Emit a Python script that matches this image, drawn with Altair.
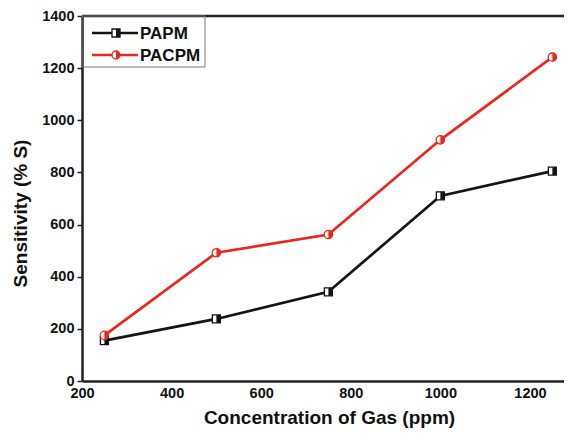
import altair as alt
import pandas as pd

concentration = [250, 500, 750, 1000, 1250]
papm = [155, 238, 342, 710, 805]
pacpm = [175, 492, 562, 925, 1242]
series_names = ["PAPM", "PACPM"]
colors = ["#141414", "#e8281e"]
x_ticks = [200, 400, 600, 800, 1000, 1200]
y_ticks = [0, 200, 400, 600, 800, 1000, 1200, 1400]

W, H = 482, 365
FONT = "Liberation Sans"

df = pd.DataFrame({
    "conc": concentration * 2,
    "sens": papm + pacpm,
    "series": [series_names[0]] * 5 + [series_names[1]] * 5,
})

xs = alt.X("conc:Q", scale=alt.Scale(domain=[200, 1276], nice=False),
           axis=alt.Axis(values=x_ticks, format="d", labelFlush=False, title="Concentration of Gas (ppm)",
                         grid=False, ticks=False, labelPadding=5, titlePadding=9, titleX=247,
                         domainColor="#222", domainWidth=2.5,
                         labelFont=FONT, labelFontWeight="bold", labelFontSize=14.5, labelColor="#111",
                         titleFont=FONT, titleFontWeight="bold", titleFontSize=19, titleColor="#111"))
ys = alt.Y("sens:Q", scale=alt.Scale(domain=[0, 1400], nice=False),
           axis=alt.Axis(values=y_ticks, format="d", labelFlush=False, title="Sensitivity (% S)", grid=False,
                         tickSize=5, tickWidth=1.5, tickColor="#222", labelPadding=3, titlePadding=11,
                         titleY=197,
                         domainColor="#222", domainWidth=2.5,
                         labelFont=FONT, labelFontWeight="bold", labelFontSize=14.5, labelColor="#111",
                         titleFont=FONT, titleFontWeight="bold", titleFontSize=19, titleColor="#111"))
color = alt.Color("series:N", scale=alt.Scale(domain=series_names, range=colors), legend=None)

base = alt.Chart(df)
lines = base.mark_line(strokeWidth=2.7).encode(x=xs, y=ys, color=color, detail="series:N")

half_sq = "M0,-1 L1,-1 L1,1 L0,1 Z"
half_circ = "M0,-1 A1,1 0 0,1 0,1 Z"

d1 = df[df.series == series_names[0]]
d2 = df[df.series == series_names[1]]
sq_bg = alt.Chart(d1).mark_point(shape="square", filled=True, fill="white", stroke=colors[0],
                                 strokeWidth=1.3, size=64, opacity=1).encode(x="conc:Q", y="sens:Q")
sq_half = alt.Chart(d1).mark_point(shape=half_sq, filled=True, color=colors[0], size=64,
                                   opacity=1).encode(x="conc:Q", y="sens:Q")
ci_bg = alt.Chart(d2).mark_point(shape="circle", filled=True, fill="white", stroke=colors[1],
                                 strokeWidth=1.3, size=70, opacity=1).encode(x="conc:Q", y="sens:Q")
ci_half = alt.Chart(d2).mark_point(shape=half_circ, filled=True, color=colors[1], size=70,
                                   opacity=1).encode(x="conc:Q", y="sens:Q")

one = pd.DataFrame({"k": [0]})
top_line = alt.Chart(one).mark_rule(color="#222", strokeWidth=2.5).encode(
    x=alt.value(0), x2=alt.value(W), y=alt.value(0))
legend_box = alt.Chart(one).mark_rect(fill=None, stroke="#777", strokeWidth=1).encode(
    x=alt.value(0), x2=alt.value(123), y=alt.value(0), y2=alt.value(51))

legend_layers = [top_line, legend_box]
ly = [17, 39]
for i, name in enumerate(series_names):
    legend_layers.append(alt.Chart(one).mark_rule(color=colors[i], strokeWidth=2.7).encode(
        x=alt.value(10), x2=alt.value(56), y=alt.value(ly[i])))
    shape = "square" if i == 0 else "circle"
    half = half_sq if i == 0 else half_circ
    legend_layers.append(alt.Chart(one).mark_point(shape=shape, filled=True, fill="white",
                                                    stroke=colors[i], strokeWidth=1.3, size=64,
                                                    opacity=1).encode(
        x=alt.value(34), y=alt.value(ly[i])))
    legend_layers.append(alt.Chart(one).mark_point(shape=half, filled=True, color=colors[i],
                                                    size=64, opacity=1).encode(
        x=alt.value(34), y=alt.value(ly[i])))
    legend_layers.append(alt.Chart(one).mark_text(text=name, font=FONT, fontWeight="bold",
                                                   fontSize=17, color="#111", align="left",
                                                   baseline="middle").encode(
        x=alt.value(58), y=alt.value(ly[i] + 1)))

chart = alt.layer(lines, sq_bg, sq_half, ci_bg, ci_half, *legend_layers).properties(
    width=W, height=H,
    autosize=alt.AutoSizeParams(type="none"),
    padding={"left": 74, "top": 8, "right": 0, "bottom": 47},
).configure_view(stroke=None).configure(background="white")

chart.save("out.html", embed_options={"renderer": "svg", "actions": False})
